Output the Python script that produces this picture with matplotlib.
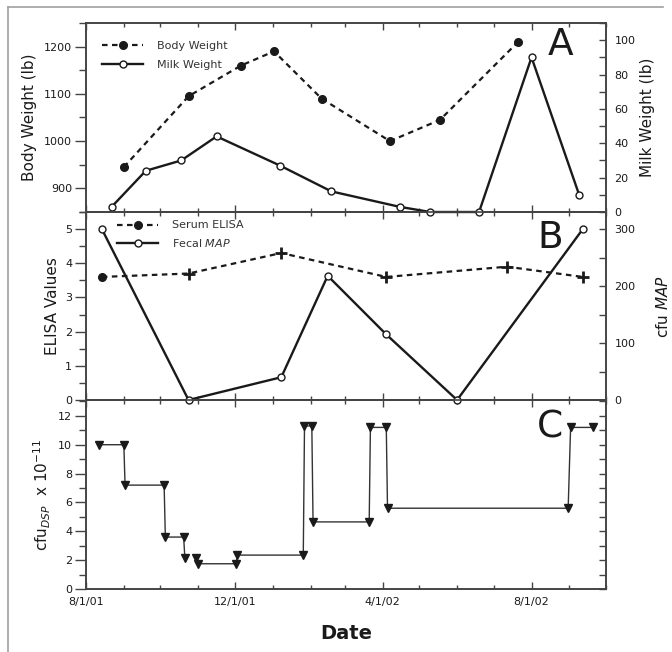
import numpy as np
import pandas as pd
import matplotlib
matplotlib.use('Agg')
import matplotlib.pyplot as plt
import matplotlib.dates as mdates
from matplotlib.ticker import MultipleLocator, FuncFormatter, NullFormatter
from matplotlib.lines import Line2D

# panel A: body weight (lb) and milk weight (lb)
bw_dates = ['2001-09-01', '2001-10-24', '2001-12-06', '2002-01-02',
            '2002-02-10', '2002-04-07', '2002-05-18', '2002-07-21']
bw_values = [945, 1095, 1160, 1190, 1090, 1000, 1045, 1210]

milk_dates = ['2001-08-22', '2001-09-19', '2001-10-18', '2001-11-16',
              '2002-01-07', '2002-02-18', '2002-04-15', '2002-05-10',
              '2002-06-19', '2002-08-01', '2002-09-09']
milk_values = [3, 24, 30, 44, 27, 12, 3, 0, 0, 90, 10]

# panel B: serum ELISA and fecal MAP counts
elisa_dates = ['2001-08-14', '2001-10-24', '2002-01-08', '2002-04-04',
               '2002-07-12', '2002-09-12']
elisa_values = [3.6, 3.7, 4.3, 3.6, 3.9, 3.6]

map_dates = ['2001-08-14', '2001-10-24', '2002-01-08', '2002-02-15',
             '2002-04-04', '2002-06-01', '2002-09-12']
map_values = [300, 0, 40, 218, 115, 0, 300]

# panel C: cfu DSP (x 1e-11), NaN marks a gap in the trace
dsp_dates = ['2001-08-12', '2001-09-01', '2001-09-02', '2001-10-04',
             '2001-10-05', '2001-10-20', '2001-10-21', '2001-10-25',
             '2001-10-30', '2001-11-01', '2001-12-02', '2001-12-03',
             '2002-01-26', '2002-01-27', '2002-02-02', '2002-02-03',
             '2002-03-21', '2002-03-22', '2002-04-04', '2002-04-05',
             '2002-08-31', '2002-09-02', '2002-09-20']
dsp_values = [10.0, 10.0, 7.2, 7.2, 3.6, 3.6, 2.15, np.nan, 2.15, 1.75,
              1.75, 2.35, 2.35, 11.3, 11.3, 4.65, 4.65, 11.2, 11.2,
              5.6, 5.6, 11.2, 11.2]

plt.rcParams['font.family'] = ['DejaVu Sans']
plt.rcParams['mathtext.fontset'] = 'dejavusans'

INK = '#1a1a1a'
SPINE = '#444444'
W, H = 672, 652

fig = plt.figure(figsize=(W / 100, H / 100), dpi=100)


def frac(x0, y_top, x1, y_bot):
    return [x0 / W, 1 - y_bot / H, (x1 - x0) / W, (y_bot - y_top) / H]


axA = fig.add_axes(frac(86, 23, 606, 212))
axB = fig.add_axes(frac(86, 212, 606, 400), sharex=axA)
axC = fig.add_axes(frac(86, 400, 606, 589), sharex=axA)
axA2 = axA.twinx()
axB2 = axB.twinx()
axC2 = axC.twinx()


def fmt_date(x, pos):
    d = mdates.num2date(x)
    return f'{d.month}/{d.day}/{d:%y}'


for ax in (axA, axB, axC):
    for s in ax.spines.values():
        s.set_color(SPINE)
        s.set_linewidth(1.2)
    ax.tick_params(axis='x', which='both', direction='in', top=True,
                   colors=SPINE, labelcolor=INK, labelsize=8, pad=6)
    ax.tick_params(axis='x', which='major', length=5, width=1)
    ax.tick_params(axis='x', which='minor', length=3, width=1)
    ax.tick_params(axis='y', which='both', direction='out', right=False,
                   colors=SPINE, labelcolor=INK, labelsize=8, pad=2)
    ax.tick_params(axis='y', which='major', length=8, width=1)
    ax.tick_params(axis='y', which='minor', length=5, width=1)

for ax in (axA2, axB2, axC2):
    for s in ax.spines.values():
        s.set_color(SPINE)
        s.set_linewidth(1.2)
    ax.tick_params(axis='y', which='both', direction='in', length=5, width=1,
                   colors=SPINE, labelcolor=INK, labelsize=8, pad=6)

axA.set_xlim(pd.Timestamp('2001-08-01'), pd.Timestamp('2002-10-01'))
axC.xaxis.set_major_locator(mdates.MonthLocator(bymonth=[4, 8, 12]))
axC.xaxis.set_minor_locator(mdates.MonthLocator())
axC.xaxis.set_major_formatter(FuncFormatter(fmt_date))
axA.tick_params(axis='x', labelbottom=False)
axB.tick_params(axis='x', labelbottom=False)

# ---- panel A ----
lbw, = axA.plot(pd.to_datetime(bw_dates), bw_values, color=INK, lw=1.6,
                dashes=(2.5, 2), marker='o', ms=5.5, mfc=INK, mec=INK)
lmilk, = axA2.plot(pd.to_datetime(milk_dates), milk_values, color=INK,
                   lw=1.7, marker='o', ms=5, mfc='white', mec=INK, mew=1,
                   clip_on=False, zorder=5)
axA.set_ylim(850, 1250)
axA.yaxis.set_major_locator(MultipleLocator(100))
axA.yaxis.set_minor_locator(MultipleLocator(50))
axA2.set_ylim(0, 110)
axA2.yaxis.set_major_locator(MultipleLocator(20))
axA2.yaxis.set_minor_locator(MultipleLocator(10))
axA.set_ylabel('Body Weight (lb)', fontsize=11, color=INK)
axA.yaxis.set_label_coords(-0.094, 0.5)
axA2.set_ylabel('Milk Weight (lb)', fontsize=11, color=INK)
axA2.yaxis.set_label_coords(1.065, 0.5)
axA2.legend([lbw, lmilk], ['Body Weight', 'Milk Weight'], loc='upper left',
            bbox_to_anchor=(0.031, 0.905), frameon=False, fontsize=8,
            handlelength=3.7, handletextpad=1.25, labelspacing=0.8,
            borderpad=0, borderaxespad=0, labelcolor='#333333')
axA2.text(0.912, 0.884, 'A', transform=axA2.transAxes, fontsize=27,
          ha='center', va='center', color=INK)

# ---- panel B ----
el_dates = pd.to_datetime(elisa_dates)
lel, = axB.plot(el_dates, elisa_values, color=INK, lw=1.6, dashes=(2.5, 2),
                marker='+', ms=9, mew=2, mec=INK,
                markevery=list(range(1, len(elisa_values))))
# first sample is shown as a dot
axB.plot(el_dates[:1], elisa_values[:1], ls='none', marker='o', ms=5.5,
         color=INK)
lmap, = axB2.plot(pd.to_datetime(map_dates), map_values, color=INK, lw=1.7,
                  marker='o', ms=5, mfc='white', mec=INK, mew=1,
                  clip_on=False, zorder=5)
axB.set_ylim(0, 5.5)
axB.yaxis.set_major_locator(MultipleLocator(1))
axB.yaxis.set_minor_locator(MultipleLocator(0.5))
axB2.set_ylim(0, 330)
axB2.yaxis.set_major_locator(MultipleLocator(100))
axB2.yaxis.set_minor_locator(MultipleLocator(50))
axB.set_ylabel('ELISA Values', fontsize=11, color=INK)
axB.yaxis.set_label_coords(-0.05, 0.5)
axB2.set_ylabel(r'cfu $\mathit{MAP}$', fontsize=11, color=INK)
axB2.yaxis.set_label_coords(1.094, 0.5)
leg_el = Line2D([], [], color=INK, lw=1.6, dashes=(2.5, 2), marker='o',
                ms=5.5, mfc=INK, mec=INK)
axB2.legend([leg_el, lmap], ['Serum ELISA', r'Fecal $\mathit{MAP}$'],
            loc='upper left', bbox_to_anchor=(0.06, 0.955), frameon=False,
            fontsize=8, handlelength=3.7, handletextpad=1.25,
            labelspacing=0.6, borderpad=0, borderaxespad=0,
            labelcolor='#333333')
axB2.text(0.892, 0.862, 'B', transform=axB2.transAxes, fontsize=27,
          ha='center', va='center', color=INK)

# ---- panel C ----
axC.plot(pd.to_datetime(dsp_dates), dsp_values, color='#333333', lw=1,
         marker='v', ms=6, mfc=INK, mec=INK)
axC.set_ylim(0, 13.1)
axC.yaxis.set_major_locator(MultipleLocator(2))
axC.yaxis.set_minor_locator(MultipleLocator(1))
axC2.set_ylim(0, 13.1)
axC2.yaxis.set_major_locator(MultipleLocator(1))
axC2.yaxis.set_major_formatter(NullFormatter())
axC.set_ylabel(r'cfu$_{\mathit{DSP}}$  x 10$^{-11}$', fontsize=11,
               color=INK)
axC.yaxis.set_label_coords(-0.063, 0.5)
axC2.text(0.892, 0.857, 'C', transform=axC2.transAxes, fontsize=27,
          ha='center', va='center', color=INK)
axC.set_xlabel('Date', fontsize=14, fontweight='bold', color=INK,
               labelpad=12)

# thin outer frame
fig.add_artist(Line2D([8 / W, 663 / W], [1 - 7 / H, 1 - 7 / H],
                      transform=fig.transFigure, color='#a0a0a0', lw=1.2))
fig.add_artist(Line2D([8 / W, 8 / W], [1 - 7 / H, 0],
                      transform=fig.transFigure, color='#a0a0a0', lw=1.2))

fig.savefig('out.png', dpi=100, facecolor='white')
